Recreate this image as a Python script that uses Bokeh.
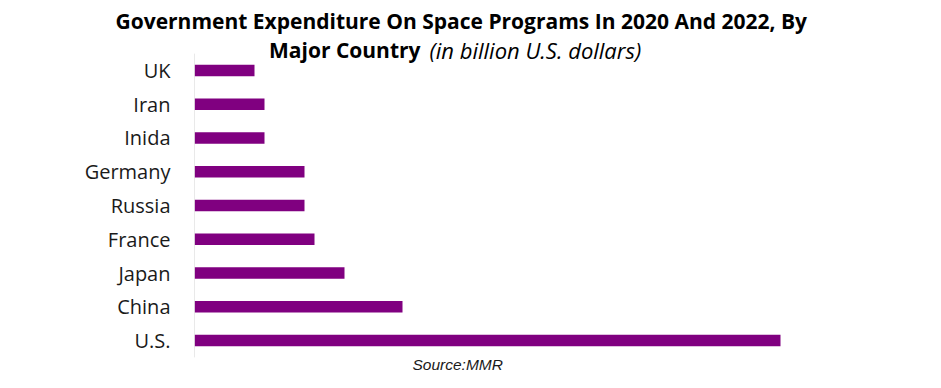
from bokeh.plotting import figure
from bokeh.models import Label, FactorRange, Range1d, Title, ColumnDataSource
from bokeh.embed import file_html
from bokeh.resources import INLINE

# Data (top-to-bottom order in the chart)
countries = ["UK", "Iran", "Inida", "Germany", "Russia", "France", "Japan", "China", "U.S."]
expenditure = [6.0, 7.0, 7.0, 11.0, 11.0, 12.0, 15.0, 20.8, 58.6]

title_line1 = "Government Expenditure On Space Programs In 2020 And 2022, By"
title_line2_bold = "Major Country"
title_line2_italic = "(in billion U.S. dollars)"
source_text = "Source:MMR"

factors = list(reversed(countries))

p = figure(
    width=925, height=372,
    y_range=FactorRange(factors=factors, range_padding=0.448, range_padding_units="absolute"),
    x_range=Range1d(0, 73.1),
    x_axis_location=None,
    output_backend="svg", toolbar_location=None,
    min_border_left=194, min_border_right=0,
    min_border_top=38, min_border_bottom=0,
)

p.hbar(y=countries, right=expenditure, left=0, height=0.34,
       color="#800080", line_color=None)

# axis line restricted to the category band
axis_src = ColumnDataSource(dict(x0=[0], x1=[0],
                                 y0=[(factors[0], -0.5)], y1=[(factors[-1], 0.5)]))
p.segment(x0="x0", y0="y0", x1="x1", y1="y1", source=axis_src,
          line_color="#d4d4d4", line_width=1)

p.xgrid.visible = False
p.ygrid.visible = False
p.outline_line_color = None
p.background_fill_color = "white"
p.border_fill_color = "white"

ya = p.yaxis[0]
ya.axis_line_color = None
ya.major_tick_line_color = None
ya.minor_tick_line_color = None
ya.major_tick_out = 0
ya.major_tick_in = 0
ya.major_label_standoff = 24
ya.major_label_text_font = "Open Sans"
ya.major_label_text_font_size = "20px"
ya.major_label_text_color = "#1a1a1a"

p.add_layout(Title(text=title_line1, align="left", offset=-79, standoff=7,
                   text_font="Open Sans", text_font_style="bold",
                   text_font_size="21px", text_color="#000000"), "above")

p.add_layout(Label(x=226, y=323, x_units="screen", y_units="screen",
                   text=title_line2_bold, text_font="Open Sans", text_font_style="bold",
                   text_font_size="21px", text_color="#000000",
                   text_align="right", text_baseline="alphabetic"))
p.add_layout(Label(x=235, y=323, x_units="screen", y_units="screen",
                   text=title_line2_italic, text_font="Open Sans", text_font_style="italic",
                   text_font_size="22px", text_color="#000000",
                   text_align="left", text_baseline="alphabetic"))
p.add_layout(Label(x=218, y=8, x_units="screen", y_units="screen",
                   text=source_text, text_font="Liberation Sans", text_font_style="italic",
                   text_font_size="15.5px", text_color="#1a1a1a",
                   text_align="left", text_baseline="alphabetic"))

open("out.html", "w").write(file_html(p, INLINE))
